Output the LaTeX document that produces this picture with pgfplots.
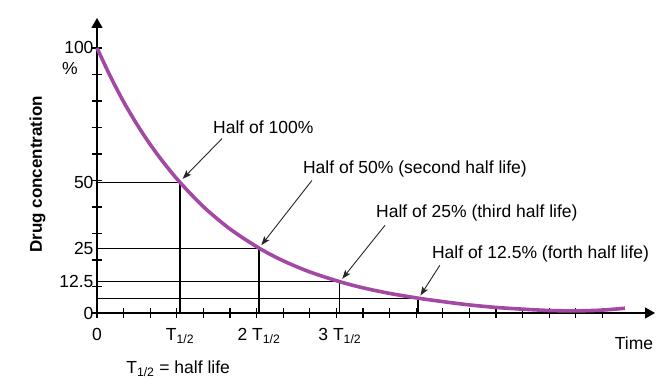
\documentclass[border=0pt]{standalone}
\usepackage{fontspec}
\setmainfont{Liberation Sans}
\usepackage{pgfplots}
\pgfplotsset{compat=1.18}
\usetikzlibrary{arrows.meta}
\definecolor{curvecol}{RGB}{163,72,163}
\newcommand{\lab}{\fontsize{17.5bp}{20bp}\selectfont}
\begin{document}
\begin{tikzpicture}
\path[use as bounding box] (0,0) rectangle (667bp,387bp);
\begin{axis}[
  at={(97bp,74bp)}, anchor=south west,
  scale only axis, width=558bp, height=295bp,
  xmin=0, xmax=20.98, ymin=0, ymax=111.3,
  axis lines=left,
  axis line style={line width=1.3bp, -{Triangle[length=10bp,width=11bp]}},
  xtick={0,...,19}, ytick={0,10,...,100},
  xticklabels={}, yticklabels={},
  tick align=center, major tick length=10bp,
  tick style={line width=1.3bp, black},
  extra x ticks={0,3.12,6.09,9.13},
  extra x tick labels={0, T\textsubscript{1/2}, 2 T\textsubscript{1/2}, 3 T\textsubscript{1/2}},
  extra y ticks={0,11.8,24.5,49.3,100},
  extra y tick labels={0,12.5,25,50,100},
  extra tick style={major tick length=0pt},
  ticklabel style={font=\lab, text=black},
  xticklabel style={yshift=-12bp},
  clip=false,
]
% reference lines
\addplot[black, line width=1.1bp] coordinates {(0,49.3) (3.12,49.3) (3.12,0)};
\addplot[black, line width=1.1bp] coordinates {(0,24.5) (6.09,24.5) (6.09,0)};
\addplot[black, line width=1.1bp] coordinates {(0,11.8) (9.13,11.8) (9.13,0)};
\addplot[black, line width=1.1bp] coordinates {(0,5.6) (12.07,5.6) (12.07,0)};
% decay curve
\addplot[curvecol, line width=3.6bp, smooth] coordinates {
 (0,100) (0.5,89.3) (1,79.7) (1.5,71.2) (2,63.6) (2.5,56.8) (3.12,49.3)
 (4,40.1) (5,31.7) (6.09,24.5) (7,19.7) (8,15.5) (9.13,11.8)
 (10,9.5) (11,7.4) (12.07,5.6) (13,4.3) (14,3.05) (15,2.1) (16,1.45)
 (17,0.95) (18,0.8) (19,1.1) (19.85,1.8)
};
% annotations
\tikzset{ann/.style={black!85, line width=0.9bp, -{Stealth[length=9bp,width=6.5bp,inset=2bp]}}}
\draw[ann] (axis cs:4.70,65.8) -- (axis cs:3.22,50.6);
\draw[ann] (axis cs:8.08,50.0) -- (axis cs:6.18,25.6);
\draw[ann] (axis cs:10.83,33.1) -- (axis cs:9.22,12.9);
\draw[ann] (axis cs:12.89,18.0) -- (axis cs:12.16,6.6);
\node[anchor=west, font=\lab, inner sep=0pt] at (axis cs:4.36,70.0) {Half of 100\%};
\node[anchor=west, font=\lab, inner sep=0pt] at (axis cs:7.74,54.5) {Half of 50\% (second half life)};
\node[anchor=west, font=\lab, inner sep=0pt] at (axis cs:10.49,37.6) {Half of 25\% (third half life)};
\node[anchor=west, font=\lab, inner sep=0pt] at (axis cs:12.59,22.2) {Half of 12.5\% (forth half life)};
\node[font=\lab, inner sep=0pt] at (axis cs:-1.02,92.1) {\%};
\node[font=\lab, inner sep=0pt] at (axis cs:20.19,-11.3) {Time};
\node[font=\lab, inner sep=0pt] at (axis cs:3.05,-21.0) {T\textsubscript{1/2} = half life};
\node[rotate=90, font=\bfseries\fontsize{17bp}{20bp}\selectfont, inner sep=0pt] at (axis cs:-2.24,52.3) {Drug concentration};
\end{axis}
\end{tikzpicture}
\end{document}
